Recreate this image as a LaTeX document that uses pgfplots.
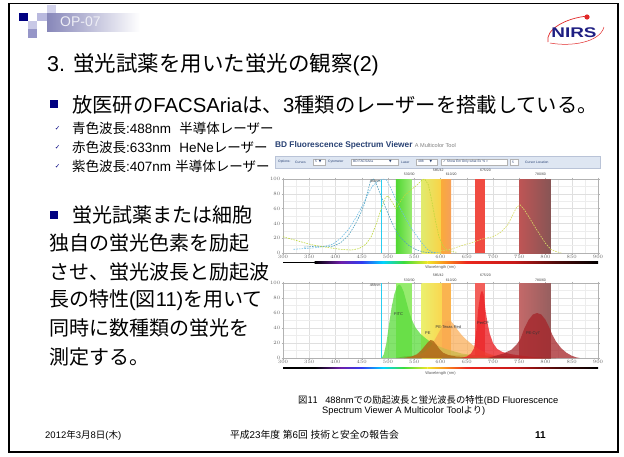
\documentclass[border=0pt]{standalone}
\usepackage{pgfplots}
\pgfplotsset{compat=1.18}
\usepackage{fontspec}
\setmainfont{Liberation Sans}
\newfontfamily\jpf{Noto Sans CJK JP}
\newfontfamily\dejavu{DejaVu Sans}
\newcommand\J[1]{{\jpf #1}}
\newcommand\fs[1]{\fontsize{#1}{#1}\selectfont}
\newcommand\dn{{\dejavu ▼}}
\definecolor{navy}{RGB}{0,0,128}
\definecolor{nirsblue}{RGB}{30,30,130}
\definecolor{nirsred}{RGB}{225,40,40}
\definecolor{bdblue}{RGB}{40,65,115}
\definecolor{hdA}{RGB}{135,135,185}
\definecolor{sqA}{RGB}{200,200,230}
\definecolor{sqB}{RGB}{150,150,200}
\definecolor{sqC}{RGB}{210,210,235}
\definecolor{sqD}{RGB}{185,185,222}
\definecolor{optxt}{RGB}{238,238,245}
\definecolor{tbfill}{RGB}{222,230,242}
\definecolor{tbline}{RGB}{185,195,215}
\definecolor{laser}{RGB}{40,205,240}
\definecolor{gA}{RGB}{80,215,50}
\definecolor{gB}{RGB}{155,235,115}
\definecolor{yA}{RGB}{225,235,110}
\definecolor{yB}{RGB}{250,210,70}
\definecolor{orA}{RGB}{250,170,60}
\definecolor{orB}{RGB}{245,160,90}
\definecolor{rdA}{RGB}{240,75,65}
\definecolor{brA}{RGB}{190,85,85}
\definecolor{brB}{RGB}{135,85,85}
\definecolor{bgG}{RGB}{150,235,110}
\definecolor{bgYA}{RGB}{235,240,110}
\definecolor{bgYB}{RGB}{250,215,80}
\definecolor{bgO}{RGB}{250,180,80}
\definecolor{bgR}{RGB}{242,95,90}
\definecolor{bgBA}{RGB}{195,105,105}
\definecolor{bgBB}{RGB}{150,95,95}
\definecolor{s1}{RGB}{0,0,0}
\definecolor{s2}{RGB}{110,30,170}
\definecolor{s3}{RGB}{50,60,240}
\definecolor{s4}{RGB}{0,210,255}
\definecolor{s5}{RGB}{60,220,60}
\definecolor{s6}{RGB}{240,230,40}
\definecolor{s7}{RGB}{250,140,30}
\definecolor{s8}{RGB}{235,40,30}
\definecolor{s9}{RGB}{200,25,25}
\definecolor{s10}{RGB}{80,10,10}
\definecolor{exA}{RGB}{110,190,230}
\definecolor{exB}{RGB}{80,160,190}
\definecolor{exC}{RGB}{190,215,60}
\definecolor{exD}{RGB}{215,220,100}
\definecolor{cFITC}{RGB}{90,220,60}
\definecolor{cPE}{RGB}{175,105,25}
\definecolor{cPETR}{RGB}{250,170,80}
\definecolor{cPerCP}{RGB}{235,35,40}
\definecolor{cCy7}{RGB}{165,35,40}
\definecolor{cBase}{RGB}{140,70,20}
\newcommand\specbar[2]{%
 \fill[black] (axis cs:300,#1) rectangle (axis cs:360,#2);
 \shade[left color=s1,right color=s2] (axis cs:360,#1) rectangle (axis cs:410,#2);
 \shade[left color=s2,right color=s3] (axis cs:410,#1) rectangle (axis cs:450,#2);
 \shade[left color=s3,right color=s4] (axis cs:450,#1) rectangle (axis cs:490,#2);
 \shade[left color=s4,right color=s5] (axis cs:490,#1) rectangle (axis cs:530,#2);
 \shade[left color=s5,right color=s6] (axis cs:530,#1) rectangle (axis cs:575,#2);
 \shade[left color=s6,right color=s7] (axis cs:575,#1) rectangle (axis cs:610,#2);
 \shade[left color=s7,right color=s8] (axis cs:610,#1) rectangle (axis cs:650,#2);
 \shade[left color=s8,right color=s9] (axis cs:650,#1) rectangle (axis cs:740,#2);
 \shade[left color=s9,right color=s10] (axis cs:740,#1) rectangle (axis cs:820,#2);
 \shade[left color=s10,right color=s1] (axis cs:820,#1) rectangle (axis cs:900,#2);
}
\tikzset{
  band/.style={draw=none},
  exc/.style={line width=0.6pt, dash pattern=on 1.6pt off 1.1pt},
  emi/.style={draw=none, fill opacity=0.75},
  blab/.style={font=\fs{3.5}, text=black!75, anchor=west, inner sep=0pt},
  clab/.style={font=\fs{4}, text=black!80, inner sep=0pt},
}
\pgfplotsset{spec/.style={
  scale only axis, width=315pt, xmin=300, xmax=900, ymin=0, ymax=100,
  anchor=south west, clip=false,
  xtick={300,350,...,900}, ytick={0,20,...,100},
  minor x tick num=1, minor y tick num=1,
  grid=both, major grid style={gray!25,line width=0.3pt},
  minor grid style={gray!14,line width=0.3pt},
  axis line style={gray!60,line width=0.4pt},
  tick style={gray!60,line width=0.3pt}, tick align=outside,
  major tick length=1.5pt, minor tick length=0pt,
  tick label style={font=\fs{3.5}, text=gray!80!black},
  xticklabel style={inner sep=1pt}, yticklabel style={inner sep=1pt},
}}
\begin{document}
\begin{tikzpicture}
\useasboundingbox (0,0) rectangle (624pt,-456pt);
\begin{scope}[x=1pt,y=-1pt]
 % slide frame
 \fill[white] (0,0) rectangle (624,456);
 \draw[line width=1.3pt] (9,3.5) rectangle (618,452);
 % header decoration
 \shade[left color=hdA, right color=white] (47,13) rectangle (140,31);
 \fill[navy] (19,13) rectangle (28,21);
 \fill[sqA] (28,21) rectangle (37,29);
 \fill[sqB] (28,29) rectangle (37,38);
 \fill[sqC] (47,4.5) rectangle (56,13);
 \fill[sqD] (37,13) rectangle (47,21);
 \node[anchor=west,inner sep=0,text=optxt] at (60,22) {\fs{14}OP-07};
 % NIRS logo
 \draw[nirsred,line width=0.7pt] (548,42) .. controls (545,30) and (565,18) .. (588,16);
 \draw[nirsred,line width=0.5pt] (550,43) .. controls (572,47) and (600,42) .. (604,27);
 \fill[nirsred] (587,17) circle (2.6);
 \node[inner sep=0] at (574,33) {\scalebox{1.35}[1]{\bfseries\fs{14}\color{nirsblue}NIRS}};
 % title
 \node[anchor=west,inner sep=0] at (47,65) {\fs{21.5}3. \J{蛍光試薬を用いた蛍光の観察}(2)};
 % bullet 1
 \fill[navy] (50,100) rectangle (58,108);
 \node[anchor=west,inner sep=0] at (72,105) {\fs{20.3}\J{放医研の}FACSAria\J{は、}3\J{種類のレーザーを搭載している。}};
 % check items
 \foreach \yy in {128,147,166} {\node[inner sep=0,text=navy] at (57.5,\yy) {\dejavu\fs{6.5}✓};}
 \node[anchor=west,inner sep=0] at (72,128) {\fs{13.5}\J{青色波長}:488nm\hspace{0.6em}\J{半導体レーザー}};
 \node[anchor=west,inner sep=0] at (72,147) {\fs{13.5}\J{赤色波長}:633nm\hspace{0.6em}HeNe\J{レーザー}};
 \node[anchor=west,inner sep=0] at (72,166) {\fs{13.5}\J{紫色波長}:407nm\hspace{0.3em}\J{半導体レーザー}};
 % left column
 \fill[navy] (50,211) rectangle (58,219);
 \node[anchor=west,inner sep=0] at (72,215) {\J{\fs{20}蛍光試薬または細胞}};
 \node[anchor=west,inner sep=0] at (49,243.5) {\J{\fs{20}独自の蛍光色素を励起}};
 \node[anchor=west,inner sep=0] at (49,272) {\J{\fs{20}させ、蛍光波長と励起波}};
 \node[anchor=west,inner sep=0] at (49,300) {\fs{20}\J{長の特性}(\J{図}11)\J{を用いて}};
 \node[anchor=west,inner sep=0] at (49,328.5) {\J{\fs{20}同時に数種類の蛍光を}};
 \node[anchor=west,inner sep=0] at (49,357) {\J{\fs{20}測定する。}};
 % viewer header
 \node[anchor=west,inner sep=0] at (275,145) {\bfseries\fs{8.3}\color{bdblue}BD Fluorescence Spectrum Viewer\ \mdseries\fs{5.6}\color{gray}A Multicolor Tool};
 \fill[tbfill] (275,156) rectangle (600,168);
 \draw[tbline,line width=0.3pt] (275,156) rectangle (600,168);
 \begin{scope}[every node/.style={inner sep=0,anchor=west,font=\fs{3.3},text=bdblue}]
  \node at (278,162) {Options:};
  \node at (295,162) {Curves};
  \draw[gray!60,fill=white,line width=0.2pt] (313,159) rectangle (325,165); \node at (315,162) {5\ \ \dn};
  \node at (328,162) {Cytometer};
  \draw[gray!60,fill=white,line width=0.2pt] (351,159) rectangle (398,165); \node at (353,162) {BD FACSAria\hspace{16pt}\dn};
  \node at (401,162) {Laser};
  \draw[gray!60,fill=white,line width=0.2pt] (416,159) rectangle (437,165); \node at (418,162) {488\hspace{6pt}\dn};
  \draw[gray!60,fill=white,line width=0.2pt] (441,159) rectangle (507,165); \node at (443,162) {{\dejavu ✓} Show Em Only what Ex \% >};
  \draw[gray!60,fill=white,line width=0.2pt] (510,159) rectangle (518,165); \node at (512,162) {5};
  \node at (525,162) {Cursor Location};
 \end{scope}
 % caption
 \node[anchor=west,inner sep=0] at (298,401) {\fs{9.3}\J{図11}\hspace{0.8em}488nm\J{での励起波長と蛍光波長の特性}(BD Fluorescence};
 \node[anchor=west,inner sep=0] at (322,411) {\fs{9.3}Spectrum Viewer A Multicolor Tool\J{より})};
 % footer
 \node[anchor=west,inner sep=0] at (45,435) {\fs{9.5}2012\J{年}3\J{月}8\J{日}(\J{木})};
 \node[inner sep=0] at (314.5,435) {\fs{9.8}\J{平成}23\J{年度} \J{第}6\J{回} \J{技術と安全の報告会}};
 \node[anchor=west,inner sep=0] at (535,435) {\bfseries\fs{10}11};
\end{scope}

% ---------- top plot: excitation spectra ----------
\begin{axis}[spec, at={(283pt,-253pt)}, height=74pt]
 \addplot[band, left color=gA, right color=gB] coordinates {(515,100) (545,100)} \closedcycle;
 \addplot[band, left color=yA, right color=yB] coordinates {(564,100) (602,100)} \closedcycle;
 \addplot[band, left color=orA, right color=orB] coordinates {(602,100) (620,100)} \closedcycle;
 \addplot[band, fill=rdA] coordinates {(665,100) (685,100)} \closedcycle;
 \addplot[band, left color=brA, right color=brB] coordinates {(750,100) (810,100)} \closedcycle;
 \addplot[laser, line width=1.4pt] coordinates {(488,0) (488,100)};
 \addplot[exc, exA] coordinates {(320,5)(340,6)(360,7)(380,9)(395,12)(410,20)(425,32)(440,49)(452,65)(462,80)(470,90)(480,97)(490,100)(497,99)(505,88)(515,72)(525,58)(535,45)(545,33)(555,23)(565,13)(575,5)(585,1)(600,0)};
 \addplot[exc, exB] coordinates {(340,8)(360,9)(380,9)(395,9)(410,14)(425,24)(437,38)(447,52)(455,66)(462,85)(467,98)(472,100)(478,93)(485,80)(495,62)(505,45)(515,30)(525,20)(540,10)(555,4)(570,1)(590,0)};
 \addplot[exc, exC] coordinates {(300,22)(315,19)(330,16)(350,12)(370,9)(390,7)(410,5)(430,4)(445,6)(458,12)(468,22)(478,40)(488,62)(495,75)(500,77)(507,70)(515,60)(522,68)(532,78)(545,86)(557,93)(565,99)(570,100)(577,92)(583,72)(590,45)(597,22)(605,9)(615,3)(630,1)};
 \addplot[exc, exD] coordinates {(600,3)(620,5)(640,10)(660,14)(680,19)(700,22)(715,28)(728,38)(738,52)(745,62)(752,65)(760,58)(770,47)(780,35)(790,24)(800,13)(810,5)(820,2)(830,0)};
 \node[blab] at (axis cs:530,106.8) {530/30};
 \node[blab] at (axis cs:585,112) {585/42};
 \node[blab] at (axis cs:610,106.8) {610/20};
 \node[blab] at (axis cs:675,112) {675/20};
 \node[blab] at (axis cs:780,106.8) {780/60};
 \node[blab, anchor=east] at (axis cs:486,97) {488nm};
 \specbar{-11.5}{-14}
 \node[font=\fs{4}, text=gray!70!black] at (axis cs:600,-19) {Wavelength (nm)};
\end{axis}

% ---------- bottom plot: emission spectra ----------
\begin{axis}[spec, at={(283pt,-358pt)}, height=75pt]
 \addplot[band, fill=bgG] coordinates {(515,100) (545,100)} \closedcycle;
 \addplot[band, left color=bgYA, right color=bgYB] coordinates {(564,100) (602,100)} \closedcycle;
 \addplot[band, fill=bgO] coordinates {(602,100) (620,100)} \closedcycle;
 \addplot[band, fill=bgR] coordinates {(665,100) (685,100)} \closedcycle;
 \addplot[band, left color=bgBA, right color=bgBB] coordinates {(750,100) (810,100)} \closedcycle;
 \addplot[laser, line width=1.4pt] coordinates {(488,0) (488,100)};
 \addplot[emi, fill=cBase, fill opacity=0.8] coordinates {(515,0)(530,2)(550,3)(580,4)(620,4)(660,4)(700,3)(740,2)(780,1)(820,0)} \closedcycle;
 \addplot[emi, fill=cFITC] coordinates {(488,0)(492,5)(497,20)(502,45)(507,68)(512,85)(517,95)(521,98)(525,96)(530,88)(535,75)(540,62)(546,50)(553,40)(562,32)(572,26)(582,21)(595,16)(610,12)(625,9)(640,6)(660,4)(680,2)(700,1)(720,0)} \closedcycle;
 \addplot[emi, fill=cPETR, fill opacity=0.7] coordinates {(540,0)(555,3)(570,8)(582,16)(592,28)(600,38)(607,46)(613,50)(619,50)(625,45)(632,38)(640,31)(650,24)(662,17)(675,11)(690,6)(705,3)(725,1)(745,0)} \closedcycle;
 \addplot[emi, fill=cPE, fill opacity=0.85] coordinates {(530,0)(545,2)(555,5)(563,10)(570,16)(576,21)(581,24)(586,23)(592,18)(598,12)(605,7)(615,4)(630,2)(650,1)(670,0)} \closedcycle;
 \addplot[emi, fill=cPerCP, fill opacity=0.8] coordinates {(640,0)(650,2)(658,6)(664,13)(668,35)(672,66)(676,85)(679,90)(682,85)(686,62)(690,45)(694,32)(700,20)(708,12)(718,8)(735,5)(755,3)(780,1)(800,0)} \closedcycle;
 \addplot[emi, fill=cCy7] coordinates {(690,0)(705,3)(720,6)(735,11)(745,18)(752,25)(760,40)(768,51)(776,58)(784,60)(792,58)(800,51)(807,41)(813,31)(820,22)(830,13)(840,7)(850,3)(858,1)(865,0)} \closedcycle;
 \node[clab] at (axis cs:520,59) {FITC};
 \node[clab] at (axis cs:576,33) {PE};
 \node[clab] at (axis cs:615,41) {PE-Texas Red};
 \node[clab] at (axis cs:681,47) {PerCP};
 \node[clab] at (axis cs:776,33) {PE-Cy7};
 \node[blab] at (axis cs:530,104) {530/30};
 \node[blab] at (axis cs:585,110.7) {585/42};
 \node[blab] at (axis cs:610,104) {610/20};
 \node[blab] at (axis cs:675,110.7) {675/20};
 \node[blab] at (axis cs:780,104) {780/60};
 \node[blab, anchor=east] at (axis cs:486,97) {488nm};
 \specbar{-12}{-14.5}
 \node[font=\fs{4}, text=gray!70!black] at (axis cs:600,-20) {Wavelength (nm)};
\end{axis}
\end{tikzpicture}
\end{document}
